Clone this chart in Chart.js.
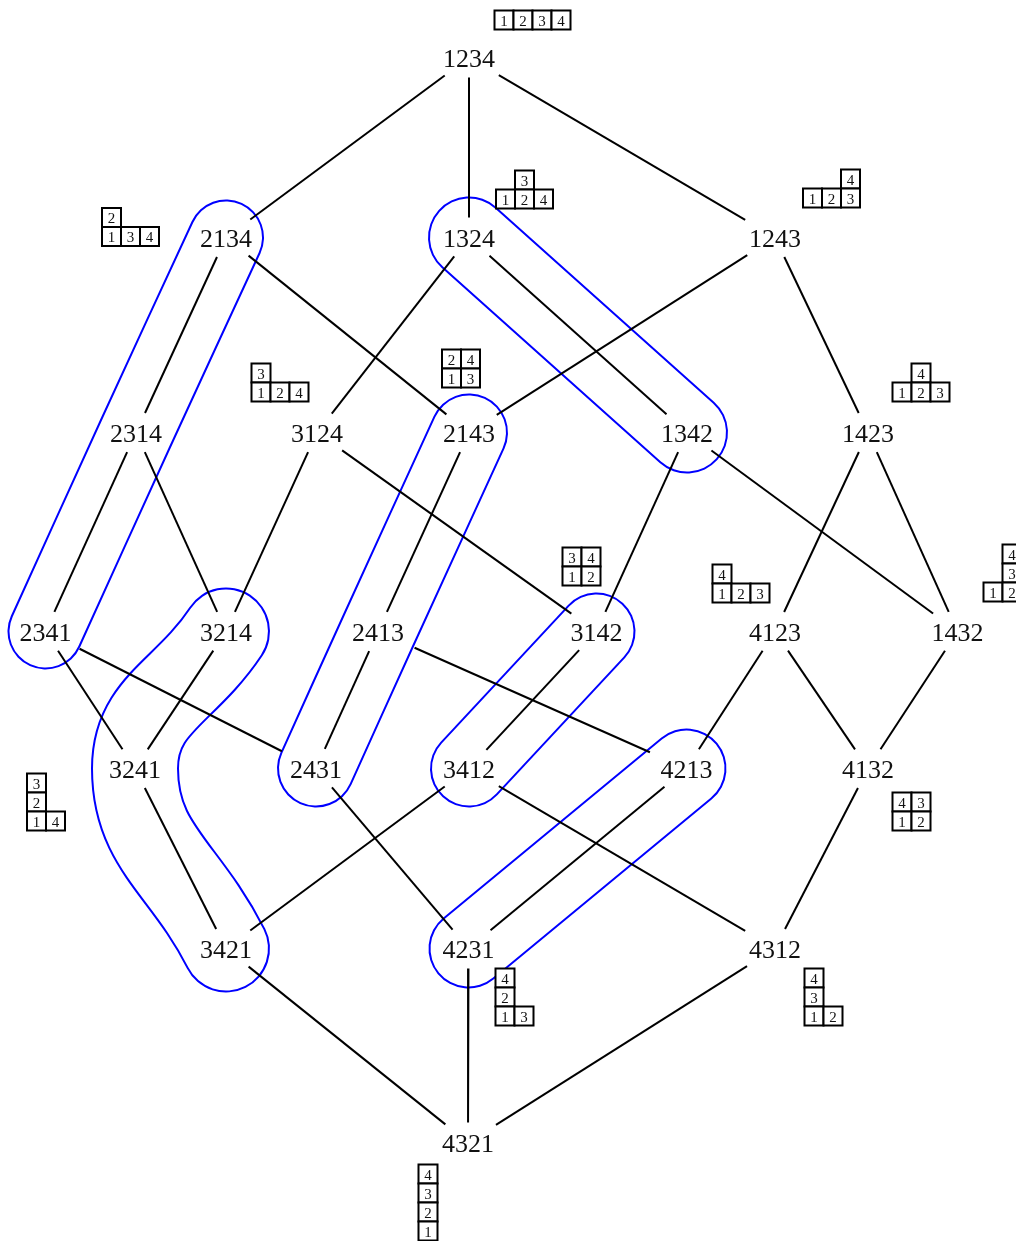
<!DOCTYPE html>
<html>
<head>
<meta charset="utf-8">
<script src="https://cdn.jsdelivr.net/npm/chart.js@4.4.1/dist/chart.umd.min.js"></script>
<style>
  html, body { margin: 0; padding: 0; background: #fff; }
  canvas { display: block; }
</style>
</head>
<body>
<canvas id="poset" width="1016" height="1241"></canvas>
<script>
// permutations of S4 and where each label sits
const perms = ["1234", "2134", "1324", "1243", "2314", "3124", "2143", "1342", "1423",
  "2341", "3214", "2413", "3142", "4123", "1432", "3241", "2431", "3412", "4213", "4132",
  "3421", "4231", "4312", "4321"];
const permX = [469, 226, 469, 775, 136, 317, 469, 687, 868,
  45.5, 226, 378, 596.5, 775, 957.5, 135, 316, 469, 686.5, 868,
  226, 468.5, 775, 468];
const permY = [57.5, 237.5, 237.5, 237.5, 432.5, 432.5, 432.5, 432.5, 432.5,
  631.5, 631.5, 631.5, 631.5, 631.5, 631.5, 768.5, 768.5, 768.5, 768.5, 768.5,
  948.5, 948.5, 948.5, 1142.5];

// cover relations
const edges = [
  ["1234", "2134"], ["1234", "1324"], ["1234", "1243"],
  ["2134", "2314"], ["2134", "2143"],
  ["1324", "3124"], ["1324", "1342"],
  ["1243", "2143"], ["1243", "1423"],
  ["2314", "2341"], ["2314", "3214"],
  ["3124", "3214"], ["3124", "3142"],
  ["2143", "2413"],
  ["1342", "3142"], ["1342", "1432"],
  ["1423", "4123"], ["1423", "1432"],
  ["2341", "3241"], ["2341", "2431"],
  ["3214", "3241"],
  ["2413", "2431"], ["2413", "4213"],
  ["3142", "3412"],
  ["4123", "4213"], ["4123", "4132"],
  ["1432", "4132"],
  ["3241", "3421"],
  ["2431", "4231"],
  ["3412", "3421"], ["3412", "4312"],
  ["4213", "4231"],
  ["4132", "4312"],
  ["3421", "4321"], ["4231", "4321"], ["4312", "4321"]
];

// blue classes
const classes = [
  ["2134", "2314", "2341"],
  ["1324", "1342"],
  ["2143", "2413", "2431"],
  ["3214", "3241", "3421"],
  ["3142", "3412"],
  ["4213", "4231"]
];
const classRadius = [37, 40, 38, 43, 38, 39];

// tableaux: rows from top to bottom, a space leaves a cell empty
const tabRows = [["1234"], ["2", "134"], [" 3", "124"], ["  4", "123"], ["3", "124"],
  ["24", "13"], [" 4", "123"], ["34", "12"], ["4", "123"], [" 4", " 3", "12"],
  ["3", "2", "14"], ["43", "12"], ["4", "2", "13"], ["4", "3", "12"], ["4", "3", "2", "1"]];
const tabX = [504, 111.5, 505.5, 812.5, 261, 451.5, 902, 572, 722, 993, 36.5, 902, 505, 814, 428];
const tabY = [20, 236.5, 199, 198, 392, 378, 392, 576, 593, 592, 821, 821, 1016, 1016, 1231];
const CELL = 19;

const idx = p => perms.indexOf(p);

function trimmed(a, b) {
  const i = idx(a), j = idx(b);
  const dx = permX[j] - permX[i], dy = permY[j] - permY[i];
  const len = Math.hypot(dx, dy);
  const t = Math.min(dx ? 32 / Math.abs(dx) : Infinity, dy ? 15 / Math.abs(dy) : Infinity) + 5 / len;
  return [
    { x: permX[i] + dx * t, y: permY[i] + dy * t },
    { x: permX[j] - dx * t, y: permY[j] - dy * t }
  ];
}

const cells = [];
tabRows.forEach((rows, k) => {
  rows.forEach((row, r) => {
    const level = rows.length - 1 - r;
    [...row].forEach((ch, c) => {
      if (ch !== " ") cells.push({ x: tabX[k] + c * CELL, y: tabY[k] - level * CELL, v: ch });
    });
  });
});

const datasets = [];

classes.forEach((cls, k) => {
  const pts = cls.map(p => ({ x: permX[idx(p)], y: permY[idx(p)] }));
  const r = classRadius[k];
  datasets.push({
    data: pts, showLine: true, pointRadius: 0, tension: 0.45,
    borderColor: "#0000ff", borderWidth: 2 * r + 2,
    borderCapStyle: "round", borderJoinStyle: "round", order: 4
  });
  datasets.push({
    data: pts, showLine: true, pointRadius: 0, tension: 0.45,
    borderColor: "#ffffff", borderWidth: 2 * r - 2,
    borderCapStyle: "round", borderJoinStyle: "round", order: 3
  });
});

edges.forEach(([a, b]) => {
  datasets.push({
    data: trimmed(a, b), showLine: true, pointRadius: 0,
    borderColor: "#000", borderWidth: 2, order: 2
  });
});

datasets.push({
  data: cells, showLine: false, pointStyle: "rect",
  pointRadius: CELL / Math.SQRT2, pointBorderWidth: 2,
  pointBorderColor: "#000", pointBackgroundColor: "#fff", order: 1
});

const textPlugin = {
  id: "texts",
  afterDatasetsDraw(chart) {
    const { ctx, scales: { x, y } } = chart;
    ctx.save();
    ctx.fillStyle = "#111";
    ctx.textAlign = "center";
    ctx.textBaseline = "alphabetic";
    ctx.font = '26px "Liberation Serif", serif';
    perms.forEach((p, i) => {
      ctx.fillText(p, x.getPixelForValue(permX[i]), y.getPixelForValue(permY[i]) + 9);
    });
    ctx.font = '15px "Liberation Serif", serif';
    cells.forEach(c => {
      ctx.fillText(c.v, x.getPixelForValue(c.x), y.getPixelForValue(c.y) + 5.5);
    });
    ctx.restore();
  }
};

new Chart(document.getElementById("poset"), {
  type: "scatter",
  data: { datasets },
  options: {
    responsive: false,
    devicePixelRatio: 1,
    animation: false,
    events: [],
    layout: { padding: 0, autoPadding: false },
    clip: false,
    plugins: { legend: { display: false }, tooltip: { enabled: false } },
    scales: {
      x: { type: "linear", min: 0, max: 1016, display: false },
      y: { type: "linear", min: 0, max: 1241, reverse: true, display: false }
    }
  },
  plugins: [textPlugin]
});
</script>
</body>
</html>
